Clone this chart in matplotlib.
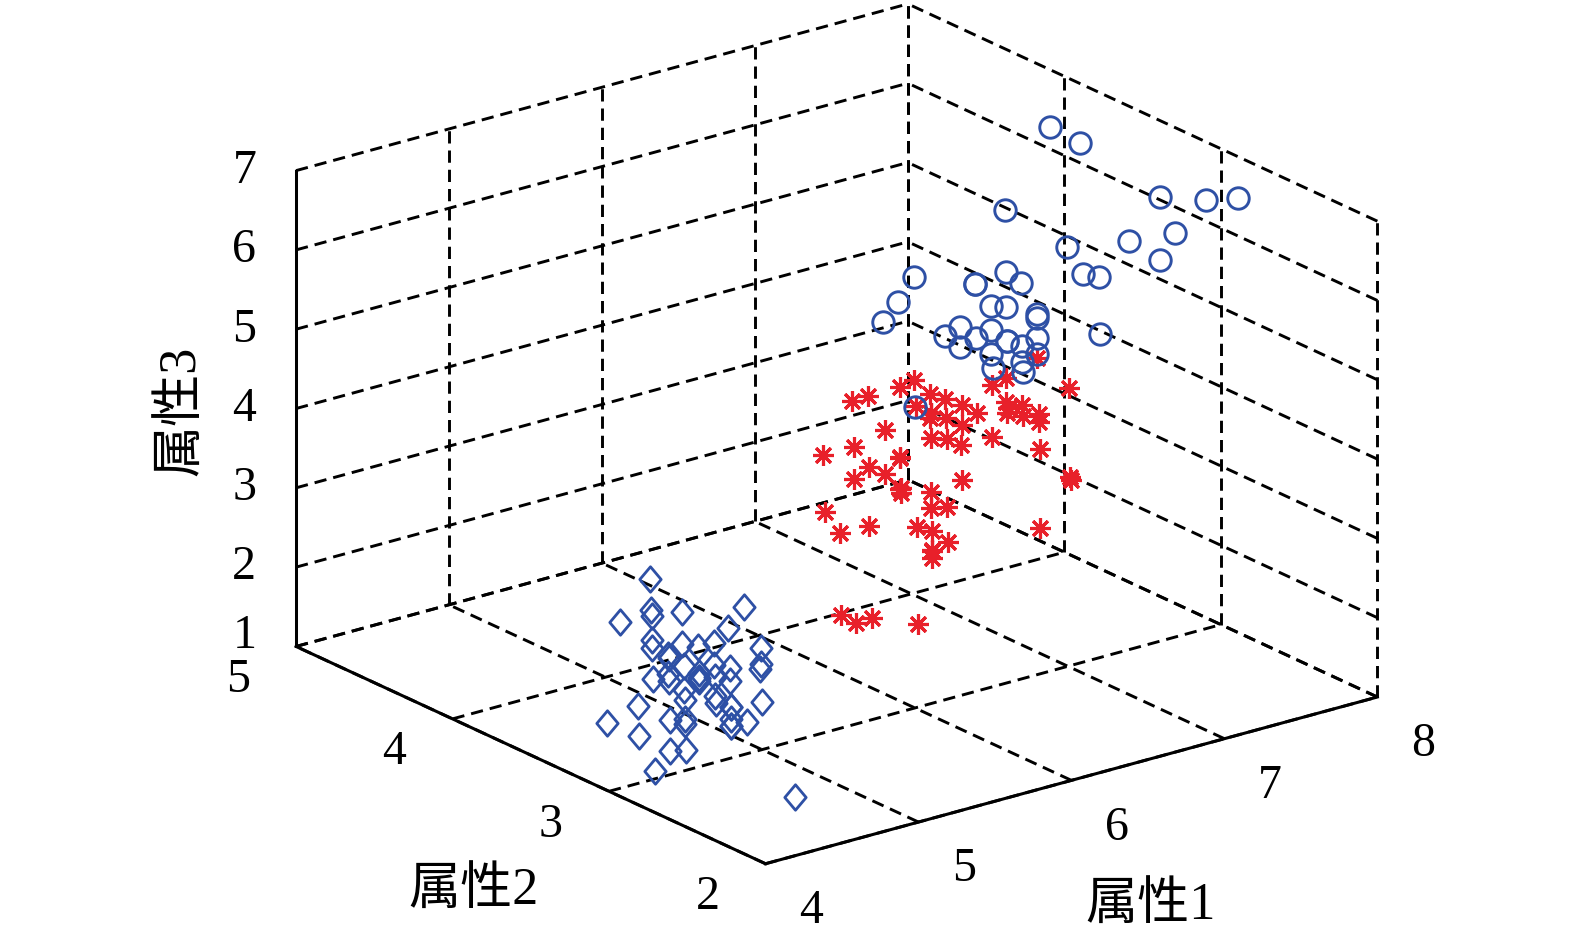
import numpy as np
import matplotlib
matplotlib.use('Agg')
import matplotlib.pyplot as plt
from matplotlib.path import Path

plt.rcParams['font.family'] = ['Liberation Serif', 'Noto Sans CJK SC']
plt.rcParams['lines.dashed_pattern'] = [4.2, 2.4]
plt.rcParams['axes.linewidth'] = 1.45
plt.rcParams['axes.edgecolor'] = 'k'

# cluster 1 (diamonds)
c1_x = [5.1, 4.9, 4.7, 4.6, 5.0, 5.4, 4.6, 5.0, 4.4, 4.9, 5.4, 4.8, 4.8, 4.3, 5.8, 5.7, 5.4,
        5.1, 5.7, 5.1, 5.4, 5.1, 4.6, 5.1, 4.8, 5.0, 5.0, 5.2, 5.2, 4.7, 4.8, 5.4, 5.2, 5.5,
        4.9, 5.0, 5.5, 4.9, 4.4, 5.1, 5.0, 4.5, 4.4, 5.0, 5.1, 4.8, 5.1, 4.6, 5.3, 5.0]
c1_y = [3.5, 3.0, 3.2, 3.1, 3.6, 3.9, 3.4, 3.4, 2.9, 3.1, 3.7, 3.4, 3.0, 3.0, 4.0, 4.4, 3.9,
        3.5, 3.8, 3.8, 3.4, 3.7, 3.6, 3.3, 3.4, 3.0, 3.4, 3.5, 3.4, 3.2, 3.1, 3.4, 4.1, 4.2,
        3.1, 3.2, 3.5, 3.6, 3.0, 3.4, 3.5, 2.3, 3.2, 3.5, 3.8, 3.0, 3.8, 3.2, 3.7, 3.3]
c1_z = [1.4, 1.4, 1.3, 1.5, 1.4, 1.7, 1.4, 1.5, 1.4, 1.5, 1.5, 1.6, 1.4, 1.1, 1.2, 1.5, 1.3,
        1.4, 1.7, 1.5, 1.7, 1.5, 1.0, 1.7, 1.9, 1.6, 1.6, 1.5, 1.4, 1.6, 1.6, 1.5, 1.5, 1.4,
        1.5, 1.2, 1.3, 1.4, 1.3, 1.5, 1.3, 1.3, 1.3, 1.6, 1.9, 1.4, 1.6, 1.4, 1.5, 1.4]

# cluster 2 (red stars)
c2_x = [7.0, 6.4, 5.5, 6.5, 5.7, 6.3, 4.9, 6.6, 5.2, 5.0, 5.9, 6.0, 6.1, 5.6, 6.7, 5.6, 5.8,
        6.2, 5.6, 5.9, 6.1, 6.3, 6.1, 6.4, 6.6, 6.8, 6.0, 5.7, 5.5, 5.5, 5.8, 6.0, 5.4, 6.0,
        6.7, 6.3, 5.6, 5.5, 5.5, 6.1, 5.8, 5.0, 5.6, 5.7, 5.7, 6.2, 5.1, 5.7,
        5.8, 4.9, 5.7, 5.8, 6.0, 5.6, 6.3, 6.2, 6.1, 6.3, 5.8, 6.3, 5.9]
c2_y = [3.2, 3.2, 2.3, 2.8, 2.8, 3.3, 2.4, 2.9, 2.7, 2.0, 3.0, 2.2, 2.9, 2.9, 3.1, 3.0, 2.7,
        2.2, 2.5, 3.2, 2.8, 2.5, 2.8, 2.9, 3.0, 2.8, 2.9, 2.6, 2.4, 2.4, 2.7, 2.7, 3.0, 3.4,
        3.1, 2.3, 3.0, 2.5, 2.6, 3.0, 2.6, 2.3, 2.7, 3.0, 2.9, 2.9, 2.5, 2.8,
        2.7, 2.5, 2.5, 2.8, 2.2, 2.8, 2.7, 2.8, 3.0, 2.8, 2.7, 2.5, 3.0]
c2_z = [4.7, 4.5, 4.0, 4.6, 4.5, 4.7, 3.3, 4.6, 3.9, 3.5, 4.2, 4.0, 4.7, 3.6, 4.4, 4.5, 4.1,
        4.5, 3.9, 4.8, 4.0, 4.9, 4.7, 4.3, 4.4, 4.8, 4.5, 3.5, 3.8, 3.7, 3.9, 5.1, 4.5, 4.5,
        4.7, 4.4, 4.1, 4.0, 4.4, 4.6, 4.0, 3.3, 4.2, 4.2, 4.2, 4.3, 3.0, 4.1,
        5.1, 4.5, 5.0, 5.1, 5.0, 4.9, 4.9, 4.8, 4.9, 5.1, 5.1, 5.0, 5.1]

# cluster 3 (blue circles)
c3_x = [6.9, 6.7, 6.3, 7.1, 6.3, 6.5, 7.6, 7.3, 6.7, 7.2, 6.5, 6.4, 6.8, 6.4, 6.5, 7.7,
        7.7, 6.9, 7.7, 6.7, 7.2, 6.4, 7.2, 7.4, 7.9, 6.4, 6.1, 7.7, 6.3, 6.4, 6.0, 6.9,
        6.7, 6.9, 6.8, 6.7, 6.7, 6.5, 6.2]
c3_y = [3.1, 3.0, 3.3, 3.0, 2.9, 3.0, 3.0, 2.9, 2.5, 3.6, 3.2, 2.7, 3.0, 3.2, 3.0, 3.8,
        2.6, 3.2, 2.8, 3.3, 3.2, 2.8, 3.0, 2.8, 3.8, 2.8, 2.6, 3.0, 3.4, 3.1, 3.0, 3.1,
        3.1, 3.1, 3.2, 3.3, 3.0, 3.0, 3.4]
c3_z = [4.9, 5.0, 6.0, 5.9, 5.6, 5.8, 6.6, 6.3, 5.8, 6.1, 5.1, 5.3, 5.5, 5.3, 5.5, 6.7,
        6.9, 5.7, 6.7, 5.7, 6.0, 5.6, 5.8, 6.1, 6.4, 5.6, 5.6, 6.1, 5.6, 5.5, 4.8, 5.4,
        5.6, 5.1, 5.9, 5.7, 5.2, 5.2, 5.4]

x_ticks = [4, 5, 6, 7, 8]
y_ticks = [2, 3, 4, 5]
z_ticks = [1, 2, 3, 4, 5, 6, 7]

blue = '#2e50a5'
red = '#e8202a'
diamond = Path([(0, 1), (0.84, 0), (0, -1), (-0.84, 0), (0, 1)],
               [Path.MOVETO, Path.LINETO, Path.LINETO, Path.LINETO, Path.CLOSEPOLY])

fig = plt.figure(figsize=(10.5, 937 / 150), dpi=150)
ax = fig.add_axes([0.0232, 0.0235, 1, 1], projection='3d', proj_type='ortho')
ax.computed_zorder = False
ax.set_box_aspect((1, 1, 0.66), zoom=1.247)
ax.view_init(elev=20.8, azim=-127.5)

x0, x1 = x_ticks[0], x_ticks[-1]
y0, y1 = y_ticks[0], y_ticks[-1]
z0, z1 = z_ticks[0], z_ticks[-1]

# dashed grid on the floor and the two back walls (MATLAB style)
g = dict(color='k', ls='--', lw=1.4, zorder=1, clip_on=False)
for v in x_ticks:
    ax.plot([v, v], [y0, y1], [z0, z0], **g)
    ax.plot([v, v], [y1, y1], [z0, z1], **g)
for v in y_ticks:
    ax.plot([x0, x1], [v, v], [z0, z0], **g)
    ax.plot([x1, x1], [v, v], [z0, z1], **g)
for v in z_ticks:
    ax.plot([x0, x1], [y1, y1], [v, v], **g)
    ax.plot([x1, x1], [y0, y1], [v, v], **g)

ax.plot(c1_x, c1_y, c1_z, ls='none', marker=diamond, ms=12.2, mfc='none', mec=blue,
        mew=1.35, zorder=3, clip_on=False)
ax.plot(c2_x, c2_y, c2_z, ls='none', marker=(8, 2, 0), ms=10, mec=red, mew=1.5,
        zorder=3, clip_on=False)
ax.plot(c3_x, c3_y, c3_z, ls='none', marker='o', ms=10.3, mfc='none', mec=blue,
        mew=1.4, zorder=3, clip_on=False)

ax.set_xlim(x0, x1)
ax.set_ylim(y0, y1)
ax.set_zlim(z0, z1)
ax.set_xticks([])
ax.set_yticks([])
ax.set_zticks([])
ax.grid(False)

for axis in (ax.xaxis, ax.yaxis, ax.zaxis):
    axis.set_pane_color((1, 1, 1, 0))

# tick labels placed like MATLAB's: project 3D anchor points to figure coords
fig.canvas.draw()
M = ax.M
to_fig = fig.transFigure.inverted()


def label_at(x, y, z, s):
    v = M @ np.array([x, y, z, 1.0])
    px = ax.transData.transform((v[0] / v[3], v[1] / v[3]))
    fx, fy = to_fig.transform(px)
    fig.text(fx, fy, s, fontsize=23, ha='center', va='center')


for v in x_ticks:
    label_at(v, y0 - 0.29, z0 - 0.33, str(v))
for v in y_ticks:
    label_at(x0 - 0.38, v, z0 - 0.22, str(v))
for v in z_ticks:
    label_at(x0 - 0.215, y1 + 0.12, v + 0.13 if v == z0 else v, str(v))

fig.text(1151 / 1575, 1 - 906 / 937, '属性1', fontsize=25, ha='center', va='center')
fig.text(473 / 1575, 1 - 891 / 937, '属性2', fontsize=25, ha='center', va='center')
fig.text(181 / 1575, 1 - 411 / 937, '属性3', fontsize=25, ha='center', va='center',
         rotation=90)

fig.savefig('out.png', dpi=150)
